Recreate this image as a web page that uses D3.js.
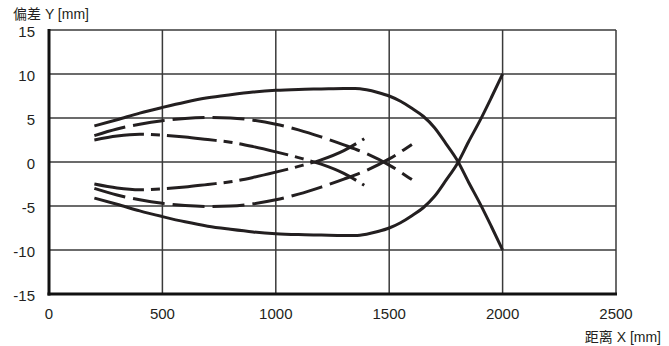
<!DOCTYPE html>
<html lang="zh">
<head>
  <meta charset="UTF-8">
  <title>偏差 Y / 距离 X</title>
  <script src="https://d3js.org/d3.v7.min.js"></script>
  <style>
    body { margin: 0; background: #fff; }
    svg { display: block; font-family: "Liberation Sans", Arial, "Noto Sans CJK SC", sans-serif; }
    .tick-label { font-size: 15px; fill: #231f20; }
    .title { font-size: 14px; fill: #231f20; }
    .grid { stroke: #3a3a3a; stroke-width: 1.5; }
    .curve { fill: none; stroke: #231f20; stroke-width: 3; }
  </style>
</head>
<body>
<svg width="669" height="346"></svg>
<script>
  // tick values
  const xTicks = [0, 500, 1000, 1500, 2000, 2500];
  const yTicks = [15, 10, 5, 0, -5, -10, -15];

  // solid pair
  const xSolid = [200, 300, 400, 500, 600, 700, 800, 900, 1000, 1100, 1200, 1300, 1350, 1400, 1450, 1500, 1550, 1600, 1650, 1700, 1750, 1800, 1850, 1900, 1950, 2000];
  const solidUpper = [4.1, 4.8, 5.55, 6.2, 6.8, 7.3, 7.65, 7.95, 8.15, 8.25, 8.3, 8.35, 8.35, 8.2, 7.9, 7.5, 6.9, 6.1, 5.2, 3.9, 2.1, 0.2, -2.3, -4.7, -7.3, -10];
  const solidLower = [-4.1, -4.8, -5.55, -6.2, -6.8, -7.3, -7.65, -7.95, -8.15, -8.25, -8.3, -8.35, -8.35, -8.2, -7.9, -7.5, -6.9, -6.1, -5.2, -3.9, -2.1, -0.2, 2.3, 4.7, 7.3, 10];

  // long-dash pair
  const xDash = [200, 300, 400, 500, 600, 700, 800, 900, 1000, 1100, 1200, 1300, 1400, 1500, 1600];
  const dashUpper = [3.0, 3.75, 4.3, 4.7, 4.95, 5.05, 5.0, 4.75, 4.3, 3.65, 2.85, 1.95, 0.95, -0.35, -2.0];
  const dashLower = [-3.0, -3.75, -4.3, -4.7, -4.95, -5.05, -5.0, -4.75, -4.3, -3.65, -2.85, -1.95, -0.95, 0.35, 2.0];

  // dash-dot pair
  const xDashDot = [200, 300, 400, 500, 600, 700, 800, 900, 1000, 1100, 1200, 1300, 1390];
  const dashDotUpper = [2.5, 2.95, 3.15, 3.05, 2.85, 2.55, 2.25, 1.75, 1.15, 0.5, -0.25, -1.3, -2.65];
  const dashDotLower = [-2.5, -2.95, -3.15, -3.05, -2.85, -2.55, -2.25, -1.75, -1.15, -0.5, 0.25, 1.3, 2.65];

  const svg = d3.select("svg");
  const x = d3.scaleLinear().domain([0, 2500]).range([49, 616]);
  const y = d3.scaleLinear().domain([-15, 15]).range([294, 30]);

  // grid
  svg.selectAll(".vgrid")
    .data(xTicks.slice(1))
    .enter().append("line")
    .attr("class", "grid")
    .attr("x1", d => x(d)).attr("x2", d => x(d))
    .attr("y1", y(15)).attr("y2", y(-15));

  svg.selectAll(".hgrid")
    .data(yTicks.slice(0, -1))
    .enter().append("line")
    .attr("class", "grid")
    .attr("x1", x(0)).attr("x2", x(2500))
    .attr("y1", d => y(d)).attr("y2", d => y(d));

  // curves
  const line = d3.line()
    .x(d => x(d[0]))
    .y(d => y(d[1]))
    .curve(d3.curveMonotoneX);

  const series = [
    { xs: xSolid, ys: solidUpper, dash: null },
    { xs: xSolid, ys: solidLower, dash: null },
    { xs: xDash, ys: dashUpper, dash: "32,8" },
    { xs: xDash, ys: dashLower, dash: "32,8" },
    { xs: xDashDot, ys: dashDotUpper, dash: "50,7,9,7" },
    { xs: xDashDot, ys: dashDotLower, dash: "50,7,9,7" }
  ];

  svg.selectAll(".curve")
    .data(series)
    .enter().append("path")
    .attr("class", "curve")
    .attr("stroke-dasharray", d => d.dash)
    .attr("d", d => line(d.xs.map((v, i) => [v, d.ys[i]])));

  // axes (thick left and bottom)
  svg.append("line")
    .attr("x1", x(0)).attr("x2", x(0))
    .attr("y1", y(15) - 1).attr("y2", y(-15) + 1.5)
    .attr("stroke", "#111").attr("stroke-width", 3);
  svg.append("line")
    .attr("x1", x(0) - 1.5).attr("x2", x(2500) + 1)
    .attr("y1", y(-15)).attr("y2", y(-15))
    .attr("stroke", "#111").attr("stroke-width", 3);

  // tick labels
  svg.selectAll(".ylab")
    .data(yTicks)
    .enter().append("text")
    .attr("class", "tick-label")
    .attr("x", 35)
    .attr("y", d => y(d) + 6.5)
    .attr("text-anchor", "end")
    .text(d => d);

  svg.selectAll(".xlab")
    .data(xTicks)
    .enter().append("text")
    .attr("class", "tick-label")
    .attr("x", d => x(d))
    .attr("y", 319)
    .attr("text-anchor", "middle")
    .text(d => d);

  // titles
  svg.append("text")
    .attr("class", "title")
    .attr("x", 13).attr("y", 19)
    .text("偏差 Y [mm]");

  svg.append("text")
    .attr("class", "title")
    .attr("x", 661).attr("y", 342)
    .attr("text-anchor", "end")
    .text("距离 X [mm]");
</script>
</body>
</html>
